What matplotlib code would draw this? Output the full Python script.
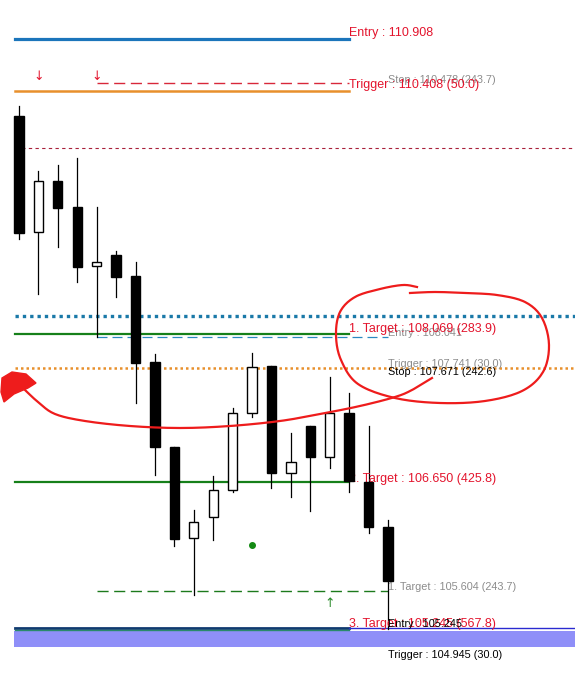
import numpy as np
import matplotlib.pyplot as plt
from matplotlib.patches import Rectangle

plt.rcParams['font.family'] = ['Liberation Sans', 'DejaVu Sans']

# OHLC 数据
opens = [110.164, 109.049, 109.539, 109.289, 108.723, 108.828, 108.627, 107.800, 106.984, 106.110,
         106.311, 106.571, 107.311, 107.762, 106.734, 107.186, 106.888, 107.311, 106.648, 106.215]
highs = [110.260, 109.635, 109.693, 109.760, 109.289, 108.867, 108.761, 107.877, 106.984, 106.379,
         106.705, 107.359, 107.887, 107.762, 107.118, 107.186, 107.656, 107.503, 107.186, 106.283]
lows = [108.982, 108.454, 108.905, 108.569, 108.041, 108.425, 107.407, 106.715, 106.033, 105.562,
        106.090, 106.552, 107.272, 106.590, 106.504, 106.369, 106.782, 106.552, 106.158, 105.240]
closes = [109.040, 109.539, 109.280, 108.713, 108.761, 108.617, 107.791, 106.984, 106.100, 106.263,
          106.571, 107.311, 107.752, 106.734, 106.840, 106.888, 107.311, 106.657, 106.215, 105.697]

# 价位
entry_hi, trigger_hi, stop_hi = 110.908, 110.408, 110.478
red_level = 109.856
blue_level = 108.242
target1, entry_mid, trigger_mid, stop_mid = 108.069, 108.041, 107.741, 107.671
target2 = 106.650
target1_low, target3, trigger_low = 105.604, 105.245, 104.945
band_top, band_bottom = 105.216, 105.063
dot_x, dot_y = 12, 106.042
down_arrows = [1, 4]
down_arrow_y = 110.540
up_arrow_x, up_arrow_y = 16, 105.484

fig = plt.figure(figsize=(5.75, 6.88), dpi=100)
ax = fig.add_axes([0, 0, 1, 1])
ax.set_xlim(-0.978, 28.63)
ax.set_ylim(104.669, 111.278)
ax.axis('off')

x0, xs, xm, xe, xr = -0.2, 4, 17, 19, 28.63
red = '#e3142d'
gray = '#8c8c8c'

# 蜡烛图
for i in range(len(opens)):
    o, h, l, c = opens[i], highs[i], lows[i], closes[i]
    ax.plot([i, i], [l, h], color='black', lw=0.9, zorder=3)
    fc = 'black' if c < o else 'white'
    ax.add_patch(Rectangle((i - 0.24, min(o, c)), 0.48, max(abs(c - o), 0.005),
                           facecolor=fc, edgecolor='black', lw=1, zorder=4))

# 水平线
ax.plot([x0, xm], [entry_hi] * 2, color='#1b75bb', lw=2.3)
ax.plot([x0, xm], [trigger_hi] * 2, color='#e8902c', lw=1.8)
ax.plot([xs, xm], [stop_hi] * 2, color='#d8283a', lw=1, dashes=(8, 4))
ax.plot([x0, xr], [red_level] * 2, color='#a8203a', lw=0.8, dashes=(3, 3))
ax.plot([x0, xr], [blue_level] * 2, color='#1a79a8', lw=2.4, dashes=(1, 1.2))
ax.plot([x0, xm], [target1] * 2, color='#16801a', lw=1.6)
ax.plot([xs, xe], [entry_mid] * 2, color='#2a88c0', lw=0.9, dashes=(8, 4))
ax.plot([x0, xr], [trigger_mid] * 2, color='#e8902c', lw=1.8, dashes=(1, 1.2))
ax.plot([x0, xm], [target2] * 2, color='#16801a', lw=1.6)
ax.plot([xs, xe], [target1_low] * 2, color='#1c7a1c', lw=1, dashes=(8, 4))
ax.axhspan(band_bottom, band_top, xmin=0.025, color='#8f8ff8', lw=0, zorder=1)
ax.plot([x0, xm], [target3] * 2, color='#103a70', lw=2, zorder=2)
ax.plot([xm, xr], [target3] * 2, color='#2a2ad0', lw=1, zorder=2)
ax.plot([x0, xm], [target3 - 0.022] * 2, color='#2a8a6a', lw=1, zorder=2)

# 文字标签
ax.text(xm, entry_hi + 0.05, 'Entry : 110.908', color=red, fontsize=9, va='center')
ax.text(xe, stop_hi + 0.03, 'Stop : 110.478 (243.7)', color=gray, fontsize=7.8, va='center')
ax.text(xm, trigger_hi + 0.05, 'Trigger : 110.408 (50.0)', color=red, fontsize=9, va='center')
ax.text(xe, entry_mid + 0.04, 'Entry : 108.041', color=gray, fontsize=7.8, va='center')
ax.text(xm, target1 + 0.05, '1. Target : 108.069 (283.9)', color=red, fontsize=9, va='center')
ax.text(xe, trigger_mid + 0.04, 'Trigger : 107.741 (30.0)', color=gray, fontsize=7.8, va='center')
ax.text(xe, stop_mid + 0.03, 'Stop : 107.671 (242.6)', color='black', fontsize=7.8, va='center')
ax.text(xm, target2 + 0.03, '2. Target : 106.650 (425.8)', color=red, fontsize=9, va='center')
ax.text(xe, target1_low + 0.04, '1. Target : 105.604 (243.7)', color=gray, fontsize=7.8, va='center')
ax.text(xm, target3 + 0.04, '3. Target : 105.245 (567.8)', color=red, fontsize=9, va='center')
ax.text(xe, target3 + 0.04, 'Entry : 105.245', color='black', fontsize=7.8, va='center')
ax.text(xe, trigger_low + 0.04, 'Trigger : 104.945 (30.0)', color='black', fontsize=7.8, va='center')

# 箭头和点
for a in down_arrows:
    ax.text(a, down_arrow_y, '↓', color=red, fontsize=9, ha='center', va='center',
            family='DejaVu Sans')
ax.text(up_arrow_x, up_arrow_y, '↑', color='#2a8a2a', fontsize=9, ha='center', va='center',
        family='DejaVu Sans')
ax.plot(dot_x, dot_y, 'o', color='#138a13', ms=4)


# 手绘红圈 (像素坐标)
def smooth(pts, n=12):
    p = np.array(pts, dtype=float)
    p = np.vstack([p[0], p, p[-1]])
    out = []
    for k in range(1, len(p) - 2):
        p0, p1, p2, p3 = p[k - 1], p[k], p[k + 1], p[k + 2]
        for t in np.linspace(0, 1, n, endpoint=False):
            out.append(0.5 * (2 * p1 + (p2 - p0) * t + (2 * p0 - 5 * p1 + 4 * p2 - p3) * t ** 2
                              + (3 * p1 - p0 - 3 * p2 + p3) * t ** 3))
    out.append(p[-2])
    return np.array(out)


circle_px = [(417, 287), (403, 285), (380, 289), (355, 297), (340, 312), (336, 335), (341, 360),
             (358, 384), (395, 398), (440, 403), (485, 401), (522, 391), (543, 372), (549, 345),
             (542, 318), (525, 302), (497, 295), (465, 293), (435, 292), (410, 293)]
tail_px = [(432, 378), (412, 390), (395, 397), (360, 406), (320, 414), (280, 421), (230, 426),
           (180, 428), (130, 426), (85, 421), (55, 414), (38, 402), (25, 390)]
head_px = [(2, 378), (12, 372), (26, 374), (36, 383), (28, 388), (14, 394), (4, 402), (1, 392)]

for pts in (circle_px, tail_px):
    s = smooth(pts)
    fig.lines.append(plt.Line2D(s[:, 0] / 575, 1 - s[:, 1] / 688, transform=fig.transFigure,
                                color='#ee1c1c', lw=1.6))
hp = [(x / 575, 1 - y / 688) for x, y in head_px]
fig.patches.append(plt.Polygon(hp, closed=True, transform=fig.transFigure,
                               facecolor='#ee1c1c', edgecolor='#ee1c1c'))

plt.savefig('out.png', dpi=100)
